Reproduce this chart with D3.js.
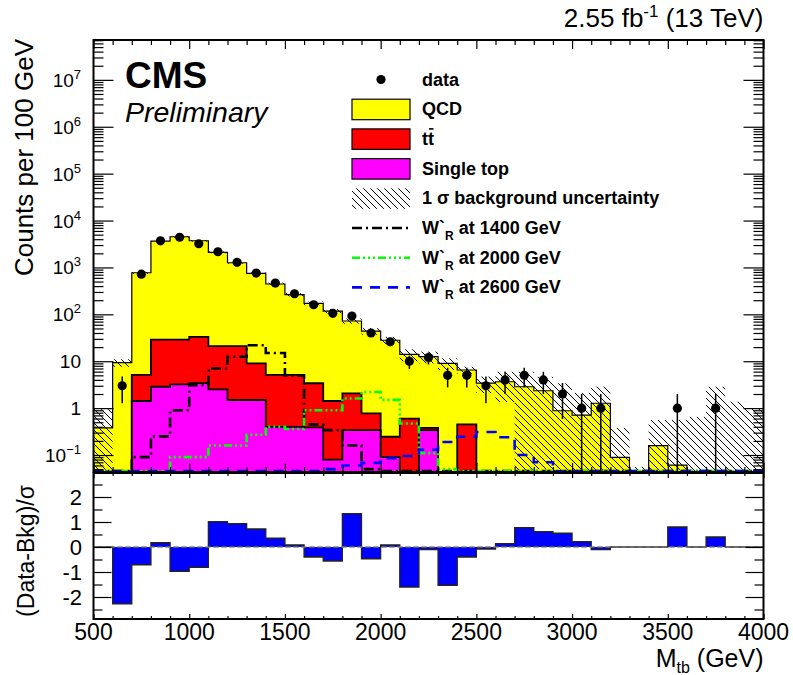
<!DOCTYPE html>
<html>
<head>
<meta charset="utf-8">
<script src="https://cdn.jsdelivr.net/npm/d3@7"></script>
<style>
  body { margin: 0; background: #fff; }
  svg text { font-family: "Liberation Sans", Arial, sans-serif; fill: #000; }
</style>
</head>
<body>
<svg id="chart" width="793" height="675"></svg>
<script>
// bins of 100 GeV from 500 to 4000
const binLow = d3.range(500, 4000, 100)

const dataCounts = [0, 3, 720, 3700, 4400, 3200, 2160, 1285, 760, 465, 275, 160, 105, 92, 40, 26, 10, 12, 5, 5,
  3, 4, 5, 4, 2, 1, 1, 0, 0, 0, 1, 0, 1, 0, 0]
const qcd = [0.38, 9.3, 766, 3627, 4489, 3680, 2079, 1239, 739, 438, 257, 168, 116, 70, 43, 27.8, 13.4, 12.1, 9, 6.05,
  3.4, 3.65, 2.86, 2.35, 0.88, 0.71, 1.27, 0.089, 0, 0.158, 0.061, 0, 0, 0, 0]
const ttbar = [0, 0, 3.68, 26.1, 25.8, 29.6, 18.5, 19.5, 7.5, 4.7, 4.7, 3.0, 1.34, 1.73, 0.43, 0.155, 0.6, 0.04, 0, 0.45,
  0, 0, 0, 0, 0, 0, 0, 0, 0, 0, 0, 0, 0, 0, 0]
const singleTop = [0, 0, 1.42, 2.86, 3.2, 3.4, 2.5, 1.49, 1.49, 0.4, 0.4, 0.39, 0.08, 0.34, 0.34, 0.09, 0, 0.34, 0, 0,
  0, 0, 0, 0, 0, 0, 0, 0, 0, 0, 0, 0, 0, 0, 0]
const bkgUnc = [0.57, 1.7, 40, 150, 180, 150, 90, 60, 40, 30, 20, 15, 12, 9, 7, 5, 4, 3.5, 2.5, 1.1,
  1.3, 2.3, 3.1, 2.3, 2.5, 1.4, 1.6, 0.29, 0.056, 0.4, 0.5, 0.65, 2.86, 1.37, 1.0]
const wr1400 = [0, 0, 0.09, 0.25, 0.9, 3.1, 7, 12.5, 22, 15, 5, 0.45, 0.34, 0.16, 0.05, 0, 0, 0, 0, 0,
  0, 0, 0, 0, 0, 0, 0, 0, 0, 0, 0, 0, 0, 0, 0]
const wr2000 = [0, 0, 0, 0, 0.09, 0.09, 0.16, 0.16, 0.27, 0.4, 0.36, 0.9, 0.9, 1.6, 2.2, 1.5, 0.47, 0.11, 0.05, 0,
  0, 0, 0, 0, 0, 0, 0, 0, 0, 0, 0, 0, 0, 0, 0]
const wr2600 = [0, 0, 0, 0, 0, 0, 0, 0, 0, 0, 0, 0, 0.05, 0.06, 0.068, 0.086, 0.095, 0.13, 0.19, 0.245,
  0.31, 0.24, 0.1, 0.07, 0.045, 0, 0, 0, 0, 0, 0, 0, 0, 0, 0]
const pull = [0, -2.27, -0.71, 0.17, -0.97, -0.81, 1.01, 0.93, 0.72, 0.35, 0.08, -0.4, -0.56, 1.33, -0.47, 0.08, -1.6, -0.1, -1.53, -0.4,
  -0.08, 0.13, 0.77, 0.61, 0.55, 0.21, -0.1, 0, 0, 0, 0.8, 0, 0.4, 0, 0]

const xTickLabels = [500, 1000, 1500, 2000, 2500, 3000, 3500, 4000]
const yExponents = [-1, 0, 1, 2, 3, 4, 5, 6, 7]
const pullTicks = [-2, -1, 0, 1, 2]

const legendItems = [
  {kind: 'marker', label: 'data'},
  {kind: 'box', color: '#ffff00', label: 'QCD'},
  {kind: 'box', color: '#ff0000', label: 'tt'},
  {kind: 'box', color: '#ff00ff', label: 'Single top'},
  {kind: 'hatch', label: '1 σ background uncertainty'},
  {kind: 'line', color: '#000000', dash: '10,4,2,4', label: '1400'},
  {kind: 'line', color: '#00ff00', dash: '8,3,2,3,2,3,2,3', label: '2000'},
  {kind: 'line', color: '#0000ff', dash: '10,8', label: '2600'},
]

const svg = d3.select('#chart')
const frame = {left: 93.5, right: 763.5, top: 40, mid: 472, low: 473, bottom: 619}

const x = d3.scaleLinear().domain([500, 4000]).range([frame.left, frame.right])
const y = d3.scaleLog().domain([Math.pow(10, -1.362), Math.pow(10, 7.85)]).range([frame.mid, frame.top])
const yPull = d3.scaleLinear().domain([-2.88, 2.96]).range([frame.bottom, frame.low])

const defs = svg.append('defs')
defs.append('pattern')
  .attr('id', 'hatch')
  .attr('patternUnits', 'userSpaceOnUse')
  .attr('width', 7).attr('height', 7)
  .append('path')
  .attr('d', 'M0,0 L7,7 M-1,6 L1,8 M6,-1 L8,1')
  .attr('stroke', '#000').attr('stroke-width', 1)
defs.append('clipPath').attr('id', 'clipTop')
  .append('rect')
  .attr('x', frame.left).attr('y', frame.top)
  .attr('width', frame.right - frame.left).attr('height', frame.mid - frame.top)
defs.append('clipPath').attr('id', 'clipLow')
  .append('rect')
  .attr('x', frame.left).attr('y', frame.low)
  .attr('width', frame.right - frame.left).attr('height', frame.bottom - frame.low)

// log y with empty bins pushed below the frame
const yv = (v, floor) => v > 0 ? y(v) : floor
function stepPath(vals, scale, base) {
  let d = `M${x(500)},${base}`
  vals.forEach((v, i) => {
    const y0 = scale(v)
    d += ` L${x(binLow[i])},${y0} L${x(binLow[i] + 100)},${y0}`
  })
  return d + ` L${x(4000)},${base}`
}

// ---- upper pad ----
const upper = svg.append('g').attr('clip-path', 'url(#clipTop)')

const stTop = singleTop
const redTop = singleTop.map((v, i) => v + ttbar[i])
const total = redTop.map((v, i) => v + qcd[i])
const under = frame.mid + 4

const layers = [
  {vals: total, color: '#ffff00', width: 1.2},
  {vals: redTop, color: '#ff0000', width: 1.8},
  {vals: stTop, color: '#ff00ff', width: 1.8},
]
layers.forEach((l) => {
  upper.append('path')
    .attr('d', stepPath(l.vals, (v) => yv(v, under), under))
    .attr('fill', l.color)
    .attr('stroke', '#000')
    .attr('stroke-width', l.width)
    .attr('stroke-linejoin', 'miter')
})

// background uncertainty band
upper.selectAll('.band')
  .data(total)
  .enter()
  .append('rect')
  .attr('class', 'band')
  .attr('x', (d, i) => x(binLow[i]))
  .attr('width', (d, i) => x(binLow[i] + 100) - x(binLow[i]))
  .attr('y', (d, i) => y(d + bkgUnc[i]))
  .attr('height', (d, i) => {
    const lo = d - bkgUnc[i]
    return yv(lo, under) - y(d + bkgUnc[i])
  })
  .attr('fill', 'url(#hatch)')

// signal lines
const signals = [
  {vals: wr1400, color: '#000000', dash: '10,4,2,4'},
  {vals: wr2000, color: '#00ff00', dash: '8,3,2,3,2,3,2,3'},
  {vals: wr2600, color: '#0000ff', dash: '10,8'},
]
signals.forEach((s) => {
  upper.append('path')
    .attr('d', stepPath(s.vals, (v) => yv(v, frame.mid - 1), frame.mid - 1))
    .attr('fill', 'none')
    .attr('stroke', s.color)
    .attr('stroke-width', 2.6)
    .attr('stroke-dasharray', s.dash)
})

// data points
const pts = dataCounts.map((n, i) => ({n, c: binLow[i] + 50})).filter((d) => d.n > 0)
upper.selectAll('.err')
  .data(pts)
  .enter()
  .append('line')
  .attr('class', 'err')
  .attr('x1', (d) => x(d.c)).attr('x2', (d) => x(d.c))
  .attr('y1', (d) => y(d.n + Math.sqrt(d.n)))
  .attr('y2', (d) => yv(d.n - Math.sqrt(d.n), under))
  .attr('stroke', '#000').attr('stroke-width', 1.5)
upper.selectAll('.pt')
  .data(pts)
  .enter()
  .append('circle')
  .attr('class', 'pt')
  .attr('cx', (d) => x(d.c)).attr('cy', (d) => y(d.n))
  .attr('r', 4.6)
  .attr('fill', '#000')

// ---- lower pad ----
const lower = svg.append('g').attr('clip-path', 'url(#clipLow)')
lower.append('path')
  .attr('d', stepPath(pull, yPull, yPull(0)))
  .attr('fill', '#0000ff')
  .attr('stroke', '#222')
  .attr('stroke-width', 1.3)
lower.append('line')
  .attr('x1', frame.left).attr('x2', frame.right)
  .attr('y1', yPull(0)).attr('y2', yPull(0))
  .attr('stroke', '#777').attr('stroke-width', 1.6)
  .attr('stroke-dasharray', '5,3')

// ---- axes & ticks ----
function ticks(axis, tx, ty) {
  const g = svg.append('g').attr('transform', `translate(${tx},${ty})`).call(axis)
  g.select('.domain').remove()
  g.selectAll('line').attr('stroke', '#000').attr('stroke-width', 1.2)
  return g
}
const xMajor = xTickLabels
const xMinor = binLow.filter((v) => v % 500 !== 0)
const logMajor = yExponents.map((e) => Math.pow(10, e))
const logMinor = []
d3.range(-2, 8).forEach((e) => {
  d3.range(2, 10).forEach((k) => {
    const v = k * Math.pow(10, e)
    if (v > y.domain()[0] && v < y.domain()[1]) logMinor.push(v)
  })
})
const pullMinor = [-2.5, -1.5, -0.5, 0.5, 1.5, 2.5]

const blank = () => ''
ticks(d3.axisRight(y).tickValues(logMajor).tickSize(20).tickFormat(blank), frame.left, 0)
ticks(d3.axisRight(y).tickValues(logMinor).tickSize(10).tickFormat(blank), frame.left, 0)
ticks(d3.axisLeft(y).tickValues(logMajor).tickSize(20).tickFormat(blank), frame.right, 0)
ticks(d3.axisLeft(y).tickValues(logMinor).tickSize(10).tickFormat(blank), frame.right, 0)
ticks(d3.axisTop(x).tickValues(xMajor).tickSize(9).tickFormat(blank), 0, frame.mid)
ticks(d3.axisTop(x).tickValues(xMinor).tickSize(5).tickFormat(blank), 0, frame.mid)
ticks(d3.axisBottom(x).tickValues(xMajor).tickSize(9).tickFormat(blank), 0, frame.top)
ticks(d3.axisBottom(x).tickValues(xMinor).tickSize(5).tickFormat(blank), 0, frame.top)

ticks(d3.axisRight(yPull).tickValues(pullTicks).tickSize(18).tickFormat(blank), frame.left, 0)
ticks(d3.axisRight(yPull).tickValues(pullMinor).tickSize(9).tickFormat(blank), frame.left, 0)
ticks(d3.axisLeft(yPull).tickValues(pullTicks).tickSize(18).tickFormat(blank), frame.right, 0)
ticks(d3.axisLeft(yPull).tickValues(pullMinor).tickSize(9).tickFormat(blank), frame.right, 0)
ticks(d3.axisTop(x).tickValues(xMajor).tickSize(5).tickFormat(blank), 0, frame.bottom)
ticks(d3.axisTop(x).tickValues(xMinor).tickSize(3).tickFormat(blank), 0, frame.bottom)
ticks(d3.axisBottom(x).tickValues(xMajor).tickSize(5).tickFormat(blank), 0, frame.low)
ticks(d3.axisBottom(x).tickValues(xMinor).tickSize(3).tickFormat(blank), 0, frame.low)

// frames
svg.append('rect')
  .attr('x', frame.left).attr('y', frame.top)
  .attr('width', frame.right - frame.left).attr('height', frame.mid - frame.top)
  .attr('fill', 'none').attr('stroke', '#000').attr('stroke-width', 2)
svg.append('rect')
  .attr('x', frame.left).attr('y', frame.low)
  .attr('width', frame.right - frame.left).attr('height', frame.bottom - frame.low)
  .attr('fill', 'none').attr('stroke', '#000').attr('stroke-width', 2)

// y tick labels (upper)
yExponents.forEach((e) => {
  const t = svg.append('text')
    .attr('x', 81).attr('y', y(Math.pow(10, e)) + 7)
    .attr('text-anchor', 'end')
    .style('font-size', '19px')
  if (e === 0) t.text('1')
  else if (e === 1) t.text('10')
  else {
    t.append('tspan').text('10')
    t.append('tspan').attr('dy', -8).style('font-size', '13px').text(e < 0 ? '−' + (-e) : e)
  }
})

// pull tick labels
pullTicks.forEach((v) => {
  svg.append('text')
    .attr('x', 82).attr('y', yPull(v) + 8)
    .attr('text-anchor', 'end')
    .style('font-size', '22px')
    .text(v)
})

// x tick labels
xTickLabels.forEach((v) => {
  svg.append('text')
    .attr('x', x(v)).attr('y', 640)
    .attr('text-anchor', 'middle')
    .style('font-size', '23px')
    .text(v)
})

// axis titles
const xt = svg.append('text')
  .attr('x', frame.right).attr('y', 667)
  .attr('text-anchor', 'end')
  .style('font-size', '25px')
xt.append('tspan').text('M')
xt.append('tspan').attr('dy', 6).style('font-size', '16px').text('tb')
xt.append('tspan').attr('dy', -6).text(' (GeV)')

svg.append('text')
  .attr('transform', `translate(33,${frame.top - 1}) rotate(-90)`)
  .attr('text-anchor', 'end')
  .style('font-size', '26px')
  .text('Counts per 100 GeV')

svg.append('text')
  .attr('transform', `translate(34,${yPull(0) + 4}) rotate(-90)`)
  .attr('text-anchor', 'middle')
  .style('font-size', '23px')
  .text('(Data-Bkg)/σ')

// header
const hd = svg.append('text')
  .attr('x', frame.right).attr('y', 27)
  .attr('text-anchor', 'end')
  .style('font-size', '26px')
hd.append('tspan').text('2.55 fb')
hd.append('tspan').attr('dy', -10).style('font-size', '17px').text('-1')
hd.append('tspan').attr('dy', 10).text(' (13 TeV)')

svg.append('text')
  .attr('x', 125).attr('y', 88)
  .style('font-size', '37px').style('font-weight', 'bold')
  .text('CMS')
svg.append('text')
  .attr('x', 125).attr('y', 122)
  .style('font-size', '28.5px').style('font-style', 'italic')
  .text('Preliminary')

// legend
const leg = svg.append('g')
const rowY = (i) => 79.5 + i * 29.7
legendItems.forEach((it, i) => {
  const cy = rowY(i)
  if (it.kind === 'marker') {
    leg.append('circle').attr('cx', 381).attr('cy', cy).attr('r', 4.6).attr('fill', '#000')
  } else if (it.kind === 'box') {
    leg.append('rect').attr('x', 352).attr('y', cy - 10).attr('width', 58).attr('height', 20.5)
      .attr('fill', it.color).attr('stroke', '#000').attr('stroke-width', 1.2)
  } else if (it.kind === 'hatch') {
    leg.append('rect').attr('x', 352).attr('y', cy - 10).attr('width', 58).attr('height', 20.5)
      .attr('fill', 'url(#hatch)')
  } else {
    leg.append('line').attr('x1', 352).attr('x2', 410).attr('y1', cy).attr('y2', cy)
      .attr('stroke', it.color).attr('stroke-width', 2.6).attr('stroke-dasharray', it.dash)
  }
  const t = leg.append('text')
    .attr('x', 422).attr('y', cy + 6)
    .style('font-size', '18px').style('font-weight', 'bold')
  if (it.kind === 'line') {
    t.append('tspan').text('W`')
    t.append('tspan').attr('dy', 6).style('font-size', '12px').text('R')
    t.append('tspan').attr('dy', -6).text(` at ${it.label} GeV`)
  } else {
    t.text(it.label)
  }
  if (it.label === 'tt') {
    const n = t.node()
    const s = n.getStartPositionOfChar(1).x
    const w = n.getSubStringLength(1, 1)
    leg.append('line').attr('x1', s + 1).attr('x2', s + w - 0.5)
      .attr('y1', cy - 10).attr('y2', cy - 10)
      .attr('stroke', '#000').attr('stroke-width', 1.6)
  }
})
</script>
</body>
</html>
